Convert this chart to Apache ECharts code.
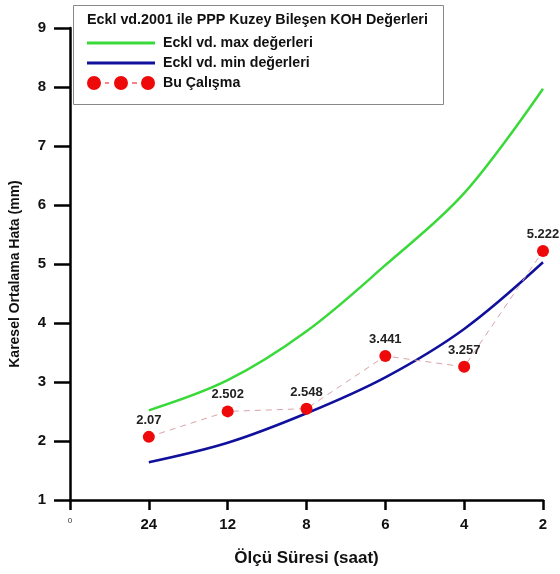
<!DOCTYPE html>
<html>
<head>
<meta charset="utf-8">
<script src="https://cdn.jsdelivr.net/npm/echarts@6/dist/echarts.min.js"></script>
<style>html,body{margin:0;padding:0;background:#fff;}#c{width:560px;height:574px;}</style>
</head>
<body>
<div id="c"></div>
<script>
var categories = ['0', '24', '12', '8', '6', '4', '2'];
var maxValues = [null, 2.52, 3.03, 3.86, 4.98, 6.2, 7.97];
var minValues = [null, 1.64, 1.97, 2.47, 3.08, 3.9, 5.03];
var studyValues = [null, 2.07, 2.502, 2.548, 3.441, 3.257, 5.222];
var yTicks = [1, 2, 3, 4, 5, 6, 7, 8, 9];

var FONT = '"Liberation Sans", Arial, sans-serif';
var chart = echarts.init(document.getElementById('c'));
var redIcon = 'path://M0,7A7,7 0 1,1 14,7A7,7 0 1,1 0,7Z M18,6.4H22V7.6H18Z M27,7A7,7 0 1,1 41,7A7,7 0 1,1 27,7Z M45,6.4H50V7.6H45Z M54,7A7,7 0 1,1 68,7A7,7 0 1,1 54,7Z';
var lineIcon = 'path://M0,0H68V3H0Z';

chart.setOption({
  animation: false,
  backgroundColor: '#fff',
  textStyle: { fontFamily: FONT },
  graphic: [{
    type: 'rect', left: 73, top: 5, shape: { width: 370, height: 99 },
    style: { fill: '#fff', stroke: '#888', lineWidth: 1 }, z: 10
  }],
  title: {
    text: 'Eckl vd.2001 ile PPP Kuzey Bileşen KOH Değerleri',
    left: 87, top: 13, padding: 0, z: 11,
    textStyle: { fontFamily: FONT, fontSize: 14.3, fontWeight: 'bold', color: '#111' }
  },
  legend: {
    orient: 'vertical', left: 87, top: 36, padding: 0, itemGap: 6, z: 11,
    itemWidth: 68, itemHeight: 14,
    textStyle: { fontFamily: FONT, fontSize: 14.2, lineHeight: 14, fontWeight: 'bold', color: '#111', padding: [0, 0, 0, 3] },
    data: [
      { name: 'Eckl vd. max değerleri', icon: lineIcon },
      { name: 'Eckl vd. min değerleri', icon: lineIcon },
      { name: 'Bu Çalışma', icon: redIcon }
    ]
  },
  grid: { left: 69, right: 17, top: 28, bottom: 74, containLabel: false },
  xAxis: {
    type: 'category', data: categories, boundaryGap: false,
    name: 'Ölçü Süresi (saat)', nameLocation: 'middle', nameGap: 50,
    nameTextStyle: { fontFamily: FONT, fontSize: 17, fontWeight: 'bold', color: '#111' },
    axisLine: { lineStyle: { color: '#000', width: 2.5 } },
    axisTick: { show: true, alignWithLabel: true, length: 10, lineStyle: { color: '#000', width: 2.5 } },
    axisLabel: {
      margin: 17, color: '#111', fontFamily: FONT, fontSize: 15, fontWeight: 'bold',
      formatter: function (v, i) { return i === 0 ? '{s|' + v + '}' : v; },
      rich: { s: { fontSize: 8, fontWeight: 'normal', color: '#333', fontFamily: FONT } }
    },
    splitLine: { show: false }
  },
  yAxis: {
    type: 'value', min: yTicks[0], max: yTicks[yTicks.length - 1], interval: 1,
    name: 'Karesel Ortalama Hata (mm)', nameLocation: 'middle', nameGap: 48,
    nameTextStyle: { fontFamily: FONT, fontSize: 14, fontWeight: 'bold', color: '#111', padding: [0, 20, 0, 0] },
    axisLine: { show: true, lineStyle: { color: '#000', width: 2.5 } },
    axisTick: { show: true, length: 16, lineStyle: { color: '#000', width: 2.5 } },
    axisLabel: { margin: 24, color: '#111', fontFamily: FONT, fontSize: 15, fontWeight: 'bold' },
    splitLine: { show: false }
  },
  series: [
    {
      name: 'Eckl vd. max değerleri', type: 'line', data: maxValues, smooth: 0.35,
      showSymbol: false, symbol: 'none',
      lineStyle: { color: '#3ad93a', width: 2.5 }, itemStyle: { color: '#3ad93a' }
    },
    {
      name: 'Eckl vd. min değerleri', type: 'line', data: minValues, smooth: 0.35,
      showSymbol: false, symbol: 'none',
      lineStyle: { color: '#10109c', width: 2.5 }, itemStyle: { color: '#10109c' }
    },
    {
      name: 'Bu Çalışma', type: 'line', data: studyValues,
      symbol: 'circle', symbolSize: 12,
      lineStyle: { color: '#d9a3a8', width: 1, type: [6, 5] },
      itemStyle: { color: '#ee0a0a' },
      label: {
        show: true, position: 'top', distance: 4, color: '#222',
        fontFamily: FONT, fontSize: 13, fontWeight: 'bold'
      }
    }
  ]
});
</script>
</body>
</html>
